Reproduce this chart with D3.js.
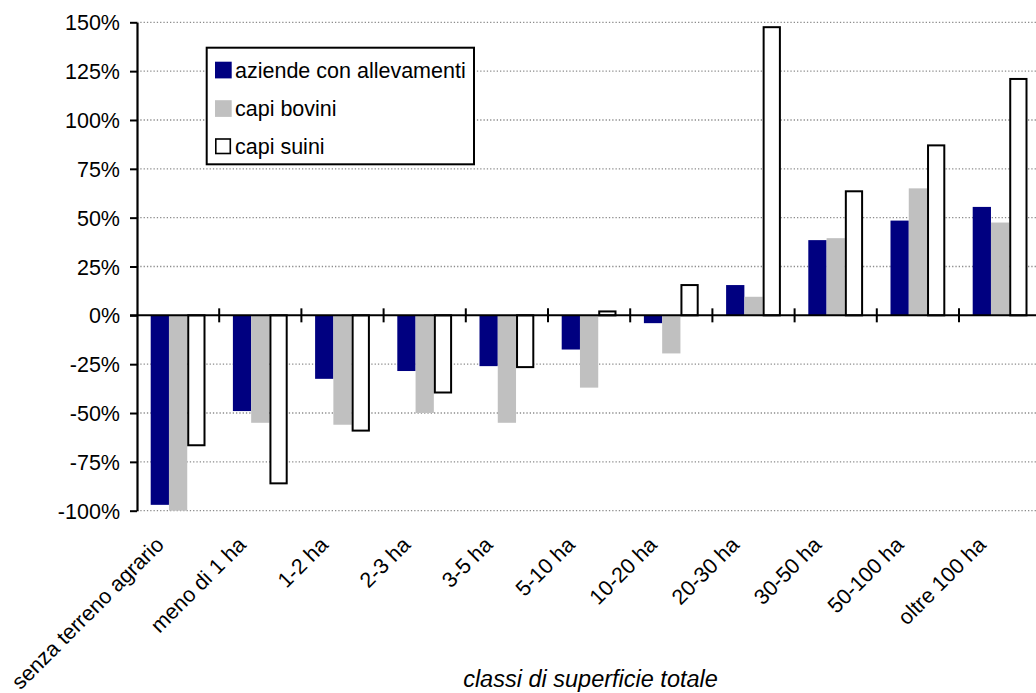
<!DOCTYPE html>
<html><head><meta charset="utf-8">
<script src="https://cdn.jsdelivr.net/npm/d3@7"></script>
<style>body{margin:0;background:#fff;} svg{display:block;} text{font-family:"Liberation Sans",Arial,sans-serif;fill:#000;}</style>
</head><body>
<svg id="c" width="1036" height="693"></svg>
<script>
const categories = ["senza terreno agrario","meno di 1 ha","1-2 ha","2-3 ha","3-5 ha","5-10 ha","10-20 ha","20-30 ha","30-50 ha","50-100 ha","oltre 100 ha"];
const seriesNames = ["aziende con allevamenti","capi bovini","capi suini"];
const aziende = [-97, -49, -32.5, -28.5, -26, -17.5, -4, 15.5, 38.5, 48.5, 55.5];
const bovini  = [-100, -55, -56, -50, -55, -37, -19.5, 9.5, 39.5, 65, 47.5];
const suini   = [-66.5, -86, -59, -39.5, -26.5, 2, 15.5, 147.5, 63.5, 87, 121];
const yTicks = [-100,-75,-50,-25,0,25,50,75,100,125,150];
const colors = ["#000080","#C0C0C0","#FFFFFF"];

const seriesData = [aziende, bovini, suini];
const svg = d3.select("#c");
const left = 137, bandW = 82.2, right = left + bandW*categories.length;
const x0 = d3.scaleBand().domain(categories).range([left, right]).padding(0);
const x1 = d3.scaleBand().domain(seriesNames).range([13.7, bandW-13.7]).padding(0);
const y = d3.scaleLinear().domain([-100,150]).range([510.7, 22.3]);

// gridlines
svg.append("g").selectAll("line").data(yTicks.filter(d=>d!==0)).join("line")
  .attr("x1", left).attr("x2", 1036).attr("y1", d=>y(d)).attr("y2", d=>y(d))
  .attr("stroke","#8c8c8c").attr("stroke-width",1.3).attr("stroke-dasharray","1.3,2");

// bars
const g = svg.append("g");
seriesData.forEach((arr, si) => {
  g.append("g").selectAll("rect").data(arr).join("rect")
    .attr("x", (d,i)=> x0(categories[i]) + x1(seriesNames[si]) + (si===2?1:0))
    .attr("width", x1.bandwidth() - (si===2?2:0))
    .attr("y", d => Math.min(y(d), y(0)))
    .attr("height", d => Math.abs(y(d)-y(0)))
    .attr("fill", colors[si])
    .attr("stroke", si===2 ? "#000" : "none")
    .attr("stroke-width", 2);
});

// y axis
const yAxis = d3.axisLeft(y).tickValues(yTicks).tickFormat(d=>d+"%").tickSize(7).tickSizeOuter(0);
const ya = svg.append("g").attr("transform",`translate(${left},0)`).call(yAxis);
ya.select(".domain").attr("stroke","#000").attr("stroke-width",2.2);
ya.selectAll(".tick line").attr("stroke","#000").attr("stroke-width",2);
ya.selectAll(".tick text").attr("font-size","21.5px").attr("font-family","Liberation Sans, Arial, sans-serif").attr("x",-17).attr("dy","0.35em").attr("fill","#000");

// zero axis line with ticks between categories
svg.append("line").attr("x1", left-7).attr("x2", 1036).attr("y1", y(0)).attr("y2", y(0)).attr("stroke","#000").attr("stroke-width",2);
const bounds = categories.map(c => x0(c)).slice(1).concat([right]);
svg.append("g").selectAll("line").data(bounds).join("line")
  .attr("x1", d=>d).attr("x2", d=>d).attr("y1", y(0)-7).attr("y2", y(0)+7)
  .attr("stroke","#000").attr("stroke-width",2);

// category labels
svg.append("g").selectAll("text").data(categories).join("text")
  .attr("transform", d => `translate(${x0(d)+bandW/2-13},546) rotate(-45)`)
  .attr("text-anchor","end").attr("font-size","21.5px").text(d=>d);

// axis title
svg.append("text").attr("x", 590.5).attr("y", 687).attr("text-anchor","middle")
  .attr("font-size","23.5px").attr("font-style","italic").text("classi di superficie totale");

// legend
const lg = svg.append("g");
lg.append("rect").attr("x",206.7).attr("y",47.7).attr("width",267.3).attr("height",116.6)
  .attr("fill","#fff").attr("stroke","#000").attr("stroke-width",2);
const rowsY = [70, 108.5, 146.5];
seriesNames.forEach((s,i)=>{
  if (i<2) {
    lg.append("rect").attr("x",215).attr("y",rowsY[i]-8.3).attr("width",16.7).attr("height",16.7).attr("fill",colors[i]);
  } else {
    lg.append("rect").attr("x",215.8).attr("y",rowsY[i]-7.5).attr("width",14.5).attr("height",14.5).attr("fill","#fff").attr("stroke","#000").attr("stroke-width",1.6);
  }
  lg.append("text").attr("x",235).attr("y",rowsY[i]).attr("dy","0.35em").attr("font-size","21.5px").text(s);
});
</script>
</body></html>
